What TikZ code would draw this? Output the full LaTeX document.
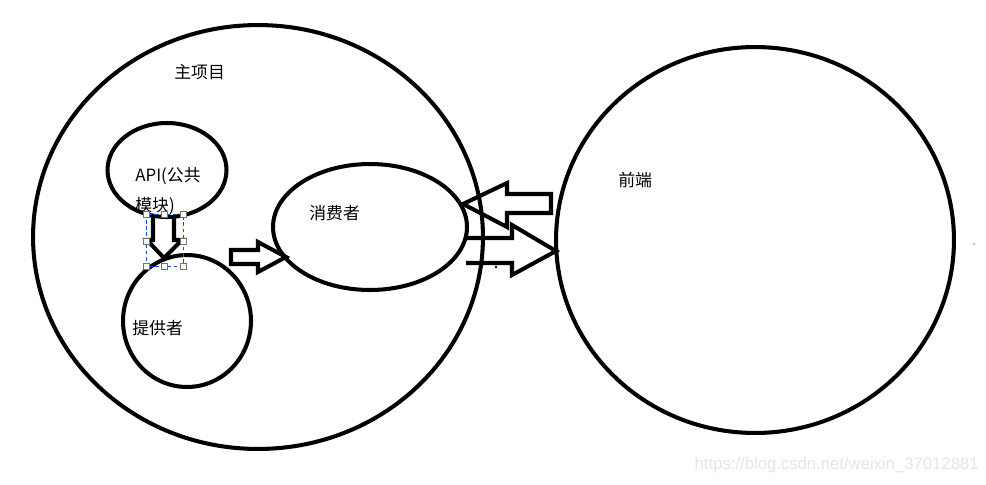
\documentclass[tikz,border=0pt]{standalone}
\usepackage{fontspec}
\newfontfamily\cjk{Noto Sans CJK SC}
\newfontfamily\wmfont{Liberation Sans}
\usetikzlibrary{positioning,shapes.geometric}
\tikzset{
  px/.style={x=0.02cm,y=-0.02cm},
  blob/.style={draw=black,line width=2.3pt,ellipse,inner sep=0pt},
  blk/.style={draw=black,line width=2.3pt,line join=miter},
  lbl/.style={font=\cjk\fontsize{9.6}{17}\selectfont,inner sep=0pt,anchor=west,align=left},
  selbox/.style={draw=blue!70!cyan,line width=0.5pt,dash pattern=on 2pt off 1.5pt},
  handle/.style={draw=black!55,fill=white,line width=0.4pt,minimum size=3.5pt,inner sep=0pt},
  wmark/.style={font=\wmfont\fontsize{9.5}{10}\selectfont,text=black!10,inner sep=0pt,anchor=east},
}
\begin{document}
\begin{tikzpicture}[px]
  \useasboundingbox (0,0) rectangle (986,484);
  % circles
  \node[blob,minimum width=9cm,minimum height=8.48cm] (main) at (258,237) {};
  \node[blob,minimum width=7.96cm,minimum height=7.72cm] (front) at (755,240) {};
  \node[blob,minimum width=2.38cm,minimum height=1.88cm] (api) at (167,170) {};
  \node[blob,minimum width=2.56cm,minimum height=2.64cm] (prov) at (187,321) {};
  \node[blob,minimum width=3.88cm,minimum height=2.52cm] (cons) at (370,227) {};
  % labels
  \node[lbl] (tmain) at (174,72) {主项目};
  \node[lbl,anchor=north west] (tapi) at (135,167) {API(公共\\模块)};
  \node[lbl] (tcons) at (309,213) {消费者};
  \node[lbl] (tprov) at (132,328) {提供者};
  \node[lbl] (tfront) at (618,180) {前端};
  % block arrows
  \draw[blk] (153,217) -- (153,240) -- (147,240) -- (164,258) -- (182,240)
    -- (174,240) -- (174,217);
  \draw[blk] (231,250) -- (258,250) -- (258,242) -- (286,257) -- (258,272)
    -- (258,264) -- (231,264) -- cycle;
  \draw[blk] (551,194) -- (507,194) -- (507,183) -- (463,204) -- (507,227)
    -- (507,213) -- (551,213) -- cycle;
  \draw[blk] (466,238) -- (512,238) -- (512,225) -- (556,251) -- (512,275)
    -- (512,263) -- (466,263);
  \fill (496,267) circle (1.3);
  \fill (974,244) circle (0.6);
  % selection frame
  \draw[selbox] (146,214) rectangle (183,266);
  \foreach \hx/\hy in {146/214,164/214,183/214,146/241,183/241,146/266,164/266,183/266}
    \node[handle] at (\hx,\hy) {};
  \node[wmark] (wm) at (979,465) {https://blog.csdn.net/weixin\_37012881};
\end{tikzpicture}
\end{document}
